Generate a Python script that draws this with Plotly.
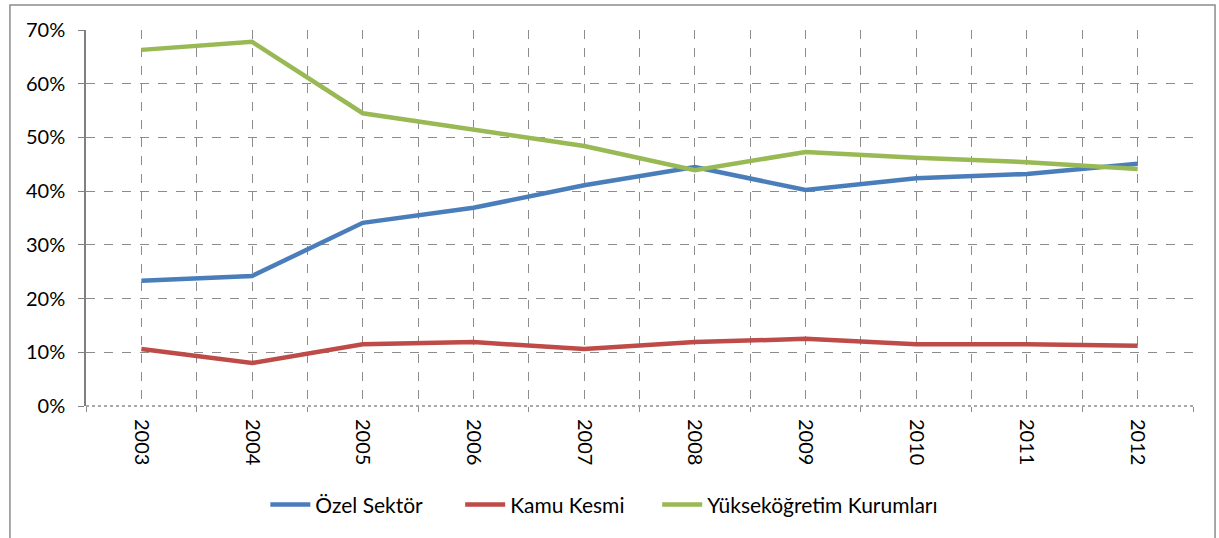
import plotly.graph_objects as go

years = ['2003', '2004', '2005', '2006', '2007', '2008', '2009', '2010', '2011', '2012']
ozel_sektor = [0.233, 0.242, 0.341, 0.369, 0.411, 0.445, 0.402, 0.424, 0.432, 0.451]
kamu_kesmi = [0.106, 0.080, 0.115, 0.119, 0.106, 0.119, 0.125, 0.115, 0.115, 0.112]
yuksekogretim = [0.663, 0.678, 0.545, 0.514, 0.484, 0.439, 0.473, 0.462, 0.454, 0.441]

series = [('Özel Sektör', ozel_sektor, '#4a7ebb'),
          ('Kamu Kesmi', kamu_kesmi, '#be4b48'),
          ('Yükseköğretim Kurumları', yuksekogretim, '#98b954')]

# one small legend per series so the entries can be spread out like the original
legend_x = [0.162, 0.338, 0.516]

xpos = list(range(len(years)))
font = 'Lato, Open Sans, sans-serif'

fig = go.Figure()
legends = {}
for i, (name, values, color) in enumerate(series):
    key = 'legend' if i == 0 else f'legend{i + 1}'
    fig.add_trace(go.Scatter(x=xpos, y=values, name=name, mode='lines', legend=key,
                             line=dict(color=color, width=4.5)))
    legends[key] = dict(orientation='h', x=legend_x[i], xanchor='left', y=-0.263,
                        yanchor='middle', font=dict(size=21), itemwidth=40,
                        bgcolor='rgba(0,0,0,0)')

fig.update_layout(
    width=1219, height=538,
    margin=dict(l=86, r=26, t=30, b=132, autoexpand=False),
    paper_bgcolor='white', plot_bgcolor='white',
    font=dict(family=font, size=19, color='black'),
    showlegend=True,
    **legends,
)

fig.update_xaxes(
    range=[-0.5, len(years) - 0.5], automargin=False,
    tickmode='array', tickvals=xpos, ticktext=years, tickangle=90,
    tickfont=dict(size=20), ticklabelstandoff=12,
    showgrid=True, gridcolor='#8c8c8c', griddash='dash', gridwidth=1,
    ticks='', showline=False, zeroline=False,
    minor=dict(tickmode='array', tickvals=[i - 0.5 for i in range(len(years) + 1)],
               showgrid=True, gridcolor='#8c8c8c', griddash='dash', gridwidth=1,
               ticks='outside', ticklen=5, tickcolor='#8c8c8c'),
)

fig.update_yaxes(
    range=[0, 0.7], dtick=0.1, tickformat='.0%', automargin=False,
    tickfont=dict(size=20), ticklabelstandoff=9,
    showgrid=True, gridcolor='#8c8c8c', griddash='dash', gridwidth=1,
    showline=True, linecolor='#808080', linewidth=1.5,
    ticks='outside', ticklen=6, tickcolor='#808080',
    zeroline=False,
)

# dotted baseline at 0%
fig.add_shape(type='line', xref='paper', yref='paper', x0=0, x1=1, y0=0, y1=0,
              line=dict(color='#8c8c8c', width=1.5, dash='dot'))
# chart area border
fig.add_shape(type='rect', xref='paper', yref='paper', x0=-0.0687, x1=1.0199, y0=-0.4, y1=1.0665,
              line=dict(color='#8c8c8c', width=1.5))

# drop the default page margin so the figure sits at the window corner
fig.write_html('out.html', config={'displayModeBar': False},
               post_script="document.body.style.margin = '0';")
